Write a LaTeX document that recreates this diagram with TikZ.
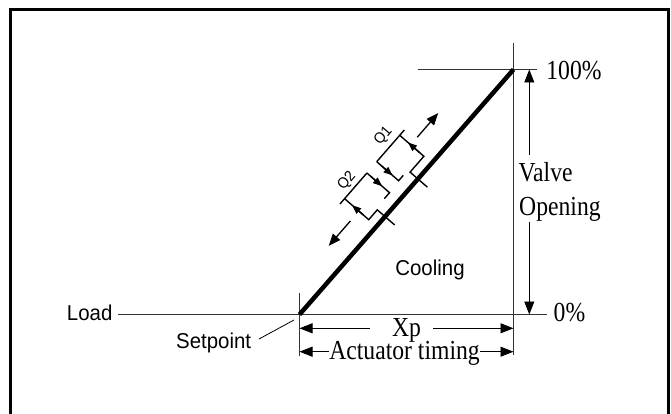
\documentclass[tikz,border=0pt]{standalone}
\usepackage{fontspec}
\setmainfont{Liberation Serif}
\newfontfamily\serf{Liberation Serif}[FakeStretch=0.86]
\newfontfamily\sanf{Liberation Sans}[FakeStretch=0.95]
\usetikzlibrary{arrows.meta}
\begin{document}
\begin{tikzpicture}[x=1pt,y=-1pt,
  refline/.style={line width=0.9pt, black!80},
  frameline/.style={line width=3pt, black},
  curve/.style={line width=4.5pt, black},
  dimarrow/.style={line width=0.9pt, black, -{Triangle[length=13pt,width=10pt]}},
  leader/.style={line width=0.8pt, black},
  qline/.style={line width=1.4pt, black},
  qarrow/.style={line width=1.4pt, black, -{Triangle[length=9pt,width=7pt]}},
  diagarrow/.style={line width=1.3pt, black, -{Triangle[length=12pt,width=9.5pt]}},
  serlabel/.style={font=\serf\fontsize{27.5}{30}\selectfont, inner sep=0pt},
  sanlabel/.style={font=\sanf\fontsize{21.5}{24}\selectfont, inner sep=0pt},
  qlabel/.style={font=\sanf\fontsize{15}{17}\selectfont, inner sep=0pt, rotate=49},
]
\useasboundingbox (0,0) rectangle (671,414);
\draw[frameline] (10.5,420) -- (10.5,9.5) -- (668.8,9.5) -- (668.8,420);

% key points
\coordinate (sp) at (299.5,314.5);
\coordinate (tp) at (513.5,69.5);

% texts
\node[sanlabel, anchor=base] (load) at (89.7,320) {Load};
\node[sanlabel, anchor=base] (setp) at (213.7,348) {Setpoint};
\node[sanlabel, anchor=base] (cool) at (430,275.7) {Cooling};
\node[serlabel, anchor=base] (p100) at (574,80) {100\%};
\node[serlabel, anchor=base] (p0) at (569.5,321.7) {0\%};
\node[serlabel, anchor=base west] (valve) at (518.5,181.7) {Valve};
\node[serlabel, anchor=base west] (opening) at (519,215) {Opening};
\node[serlabel, anchor=base] (xp) at (406.5,336) {\raisebox{0pt}[\height][0pt]{Xp}};
\node[serlabel, anchor=base] (act) at (404.5,359) {\raisebox{0pt}[18pt][\depth]{Actuator timing}};

% reference lines
\draw[refline] ([xshift=5pt]load.east |- sp) -- (547,314.5);
\draw[refline] (418,69.5) -- (537,69.5);
\draw[refline] (513.5,43) -- (513.5,355);
\draw[refline] (299.5,293) -- (299.5,356);

% setpoint leader
\coordinate (spl) at (259,339);
\draw[leader] (spl) -- ([shift={(-5.5,5.5)}]sp);

% main characteristic
\draw[curve] (sp) -- (tp);

% Xp dimension
\coordinate (xpl) at (370,328.3);
\coordinate (xpr) at (433,328.3);
\draw[dimarrow] (xpl) -- (xpl -| sp);
\draw[dimarrow] (xpr) -- (xpr -| tp);

% actuator timing dimension
\coordinate (atl) at (329,351.7);
\coordinate (atr) at (480,351.7);
\draw[dimarrow] (atl) -- (atl -| sp);
\draw[dimarrow] (atr) -- (atr -| tp);

% valve opening dimension
\coordinate (vot) at (529.3,155);
\coordinate (vob) at (529.3,222);
\draw[dimarrow] (vot) -- (vot |- tp);
\draw[dimarrow] (vob) -- (vob |- sp);

% hysteresis symbols along the line
\begin{scope}[shift={(sp)}, x={(0.6562pt,0.7545pt)}, y={(-0.7545pt,0.6562pt)}]
  % Q1
  \draw[qline] (166,42) -- (208,42);
  \draw[qline] (201,42) -- (201,10) -- (180,10) -- (180,-13);
  \draw[qline] (166,42) -- (166,13) -- (173,13);
  \draw[qarrow] (201,16) -- (201,31);
  \draw[qarrow] (166,36) -- (166,21);
  \node[qlabel] (q1) at (190,54) {Q1};
  % Q2
  \draw[qline] (110,42) -- (151,42);
  \draw[qline] (117,42) -- (117,10) -- (130,10) -- (130,-13);
  \draw[qline] (151,42) -- (151,12) -- (143,12);
  \draw[qarrow] (117,17) -- (117,32);
  \draw[qarrow] (151,37) -- (151,22);
  \node[qlabel] (q2) at (132,52) {Q2};
  % direction arrows
  \draw[diagarrow] (211,27.5) -- (243,27.5);
  \draw[diagarrow] (104,23) -- (71,23);
\end{scope}
\end{tikzpicture}
\end{document}
